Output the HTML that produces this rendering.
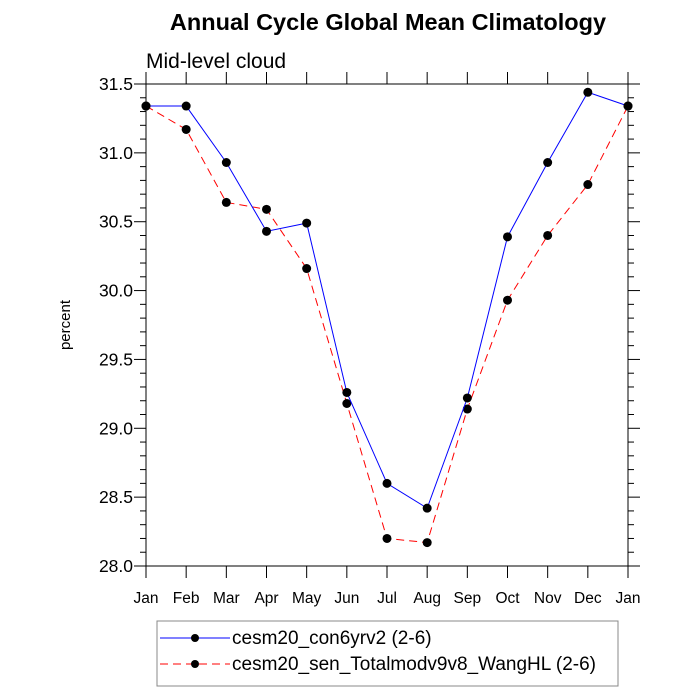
<!DOCTYPE html>
<html><head><meta charset="utf-8"><style>body{margin:0;background:#fff}svg{display:block;font-family:"Liberation Sans",sans-serif}</style></head>
<body>
<svg id="c" width="700" height="700"></svg>
<script>
const months=["Jan","Feb","Mar","Apr","May","Jun","Jul","Aug","Sep","Oct","Nov","Dec","Jan"];
const seriesA=[31.34,31.34,30.93,30.43,30.49,29.26,28.60,28.42,29.22,30.39,30.93,31.44,31.34];
const seriesB=[31.34,31.17,30.64,30.59,30.16,29.18,28.20,28.17,29.14,29.93,30.40,30.77,31.34];
const yTicks=["28.0","28.5","29.0","29.5","30.0","30.5","31.0","31.5"];
const X0=146,X1=628,Y0=566,Y1=84,YMIN=28,YMAX=31.5;
const sx=i=>X0+(X1-X0)*i/(months.length-1);
const sy=v=>Y0-(Y0-Y1)*(v-YMIN)/(YMAX-YMIN);
const svg=document.getElementById('c');const NS="http://www.w3.org/2000/svg";
function mk(t,a,p){const e=document.createElementNS(NS,t);for(const k in a)e.setAttribute(k,a[k]);(p||svg).appendChild(e);return e;}
let t=mk('text',{x:388,y:30,'text-anchor':'middle','font-size':23.5,'font-weight':'bold'});t.textContent="Annual Cycle Global Mean Climatology";

t=mk('text',{x:146,y:68,'font-size':21});t.textContent="Mid-level cloud";

t=mk('text',{x:70,y:325,'text-anchor':'middle','font-size':15,transform:'rotate(-90 70 325)'});t.textContent="percent";

const fr=mk('rect',{x:X0,y:Y1,width:X1-X0,height:Y0-Y1,fill:'none',stroke:'#000','stroke-width':1});

const ax=mk('g',{stroke:'#000','stroke-width':1});
for(let v=0;v<=35;v++){const val=YMIN+v*0.1,y=sy(val),L=v%5==0?12:6;
 mk('line',{x1:X0-L,x2:X0,y1:y,y2:y},ax);mk('line',{x1:X1,x2:X1+L,y1:y,y2:y},ax);}
yTicks.forEach(s=>{const e=mk('text',{x:X0-13,y:sy(+s)+6,'text-anchor':'end','font-size':17.5});e.textContent=s;
 });
months.forEach((m,i)=>{const x=sx(i);mk('line',{x1:x,x2:x,y1:Y0,y2:Y0+12},ax);mk('line',{x1:x,x2:x,y1:Y1-12,y2:Y1},ax);
 const e=mk('text',{x:x,y:603,'text-anchor':'middle','font-size':15.5});e.textContent=m;
 });
function series(d,col,dash,name){const g=mk('g',{});
 mk('polyline',{points:d.map((v,i)=>sx(i)+','+sy(v)).join(' '),fill:'none',stroke:col,'stroke-width':1,'stroke-dasharray':dash},g);
 d.forEach((v,i)=>{const c=mk('circle',{cx:sx(i),cy:sy(v),r:4.5,fill:'#000'},g);});}
series(seriesB,'#f00','8,5','series-sen');
series(seriesA,'#00f','none','series-con');
const lg=mk('g',{});
mk('rect',{x:157,y:621,width:461,height:65,fill:'none',stroke:'#888'},lg);
[[638,'#00f','none','cesm20_con6yrv2 (2-6)'],[664,'#f00','8,5','cesm20_sen_Totalmodv9v8_WangHL (2-6)']].forEach(r=>{
 const e=mk('g',{},lg);
 mk('line',{x1:160,x2:230,y1:r[0],y2:r[0],stroke:r[1],'stroke-dasharray':r[2]},e);
 mk('circle',{cx:195,cy:r[0],r:4,fill:'#000'},e);
 const tx=mk('text',{x:232,y:r[0]+6,'font-size':19},e);tx.textContent=r[3];});
</script>
</body></html>
